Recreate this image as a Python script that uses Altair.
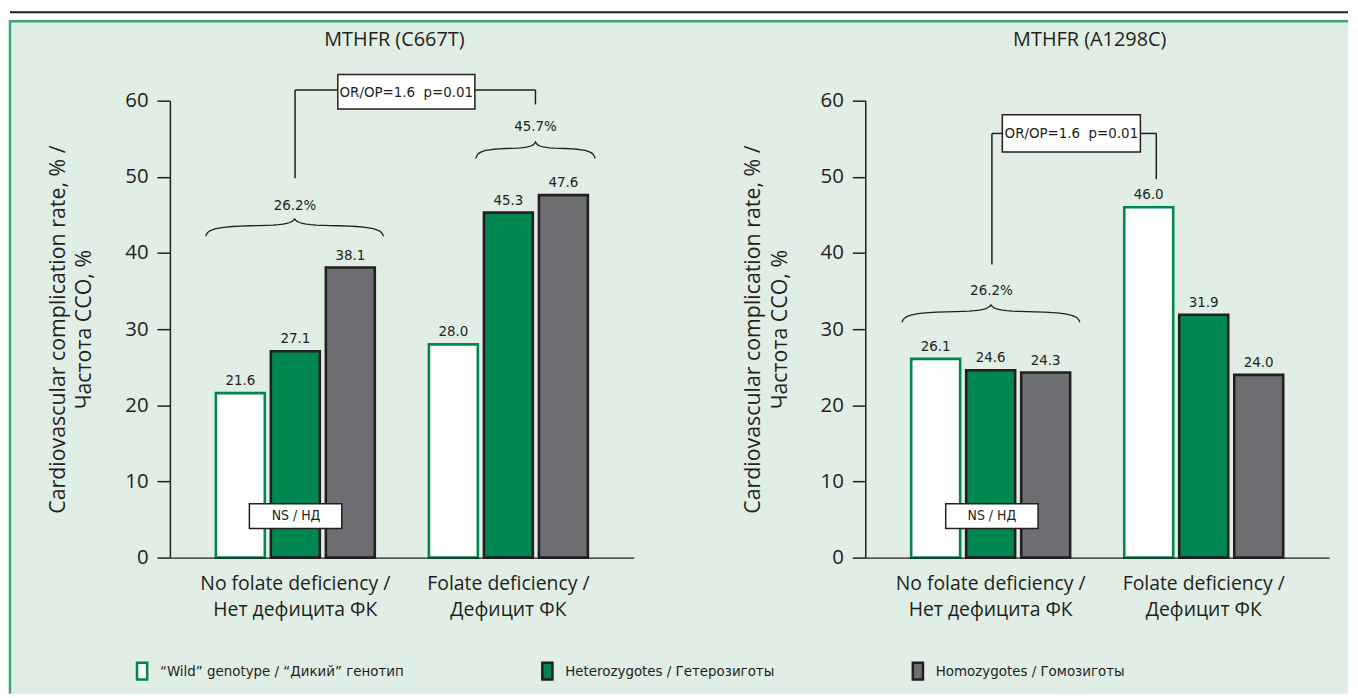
import altair as alt
import pandas as pd

# ---------------- data ----------------
conditions = ["No folate deficiency /|Нет дефицита ФК", "Folate deficiency /|Дефицит ФК"]
genotypes = ["“Wild” genotype / “Дикий” генотип", "Heterozygotes / Гетерозиготы", "Homozygotes / Гомозиготы"]
c667t_no = [21.6, 27.1, 38.1]
c667t_def = [28.0, 45.3, 47.6]
a1298c_no = [26.1, 24.6, 24.3]
a1298c_def = [46.0, 31.9, 24.0]
titles = ["MTHFR (C667T)", "MTHFR (A1298C)"]
group_pct_left = ["26.2%", "45.7%"]
group_pct_right = ["26.2%"]
or_text = "OR/OP=1.6\u00a0\u00a0p=0.01"
ns_text = "NS / НД"

# ---------------- style ----------------
BG = "#e0eee5"
FRAME = "#3fa878"
GREEN = "#00874f"
GRAY = "#6d6e72"
INK = "#231f20"
FONT = "Open Sans"
COND = "'Liberation Sans Narrow', 'DejaVu Sans Condensed', 'Roboto Condensed', sans-serif"
W, H = 467, 460
YS = alt.Scale(domain=[0, 60])


def bars_df(no_vals, def_vals):
    rows = []
    for c, vals in zip(conditions, [no_vals, def_vals]):
        for g, v in zip(genotypes, vals):
            rows.append({"cond": c, "geno": g, "val": v})
    return pd.DataFrame(rows)


def brace_pts(bid, x0, x1, yb, yt, n=10):
    w = (x1 - x0) / 2.0
    h = yt - yb
    halves = [
        [(0, 0), (0.02, 0.4), (0.12, 0.55), (0.5, 0.6)],
        [(0.5, 0.6), (0.85, 0.62), (0.97, 0.7), (1.0, 1.0)],
        [(1.0, 1.0), (1.03, 0.7), (1.15, 0.62), (1.5, 0.6)],
        [(1.5, 0.6), (1.88, 0.55), (1.98, 0.4), (2.0, 0.0)],
    ]
    pts = []
    k = 0
    for seg in halves:
        for i in range(n + 1):
            t = i / n
            bx = ((1 - t) ** 3 * seg[0][0] + 3 * (1 - t) ** 2 * t * seg[1][0]
                  + 3 * (1 - t) * t ** 2 * seg[2][0] + t ** 3 * seg[3][0])
            by = ((1 - t) ** 3 * seg[0][1] + 3 * (1 - t) ** 2 * t * seg[1][1]
                  + 3 * (1 - t) * t ** 2 * seg[2][1] + t ** 3 * seg[3][1])
            pts.append({"id": bid, "i": k, "x": x0 + bx * w, "y": yb + by * h})
            k += 1
    return pts


geno_fill = alt.Scale(domain=genotypes, range=["#ffffff", GREEN, GRAY])
geno_stroke = alt.Scale(domain=genotypes, range=[GREEN, INK, INK])
legend = alt.Legend(
    orient="none", legendX=-38, legendY=564, direction="horizontal", title=None,
    symbolType="M-0.6,-1L0.6,-1L0.6,1L-0.6,1Z", symbolSize=290, symbolStrokeWidth=2.5,
    labelFont=COND, labelFontSize=15, labelColor=INK, labelLimit=400, labelOffset=8,
    columnPadding=133, symbolOpacity=1,
)


def panel(no_vals, def_vals, title, braces, segs, boxes, texts, show_frame):
    df = bars_df(no_vals, def_vals)
    xenc = alt.X(
        "cond:N", sort=conditions, title=None,
        scale=alt.Scale(paddingInner=0.254, paddingOuter=0.2156),
        axis=alt.Axis(
            labelExpr="split(datum.label, '|')", labelAngle=0, ticks=False,
            labelFont=FONT, labelFontSize=19.5, labelColor=INK, labelPadding=17,
            labelLineHeight=26, labelLimit=400, domainColor=INK, domainWidth=1.5, zindex=1,
        ),
    )
    xoff = alt.XOffset("geno:N", sort=genotypes, scale=alt.Scale(paddingInner=0.11, paddingOuter=0))
    yenc = alt.Y(
        "val:Q", scale=YS,
        axis=alt.Axis(
            values=[0, 10, 20, 30, 40, 50, 60], grid=False, tickSize=13, tickWidth=1.5,
            tickColor=INK, domainColor=INK, domainWidth=1.5, labelFont=FONT,
            labelFontSize=20.5, labelColor=INK, labelPadding=9, zindex=1,
            title=["Cardiovascular complication rate, % /", "Частота ССО, %"],
            titleFont=FONT, titleFontSize=21.5, titleFontWeight="normal", titleColor=INK,
            titlePadding=29, titleLineHeight=27,
        ),
    )
    bars = alt.Chart(df).mark_bar(strokeWidth=2.6).encode(
        x=xenc, xOffset=xoff, y=yenc,
        fill=alt.Fill("geno:N", scale=geno_fill, sort=genotypes, legend=legend),
        stroke=alt.Stroke("geno:N", scale=geno_stroke, sort=genotypes, legend=legend),
    )
    labels = alt.Chart(df).mark_text(font=COND, fontSize=15, color=INK, dy=-13).encode(
        x=alt.X("cond:N", sort=conditions), xOffset=alt.XOffset("geno:N", sort=genotypes),
        y=alt.Y("val:Q", scale=YS),
        text=alt.Text("val:Q", format=".1f"),
    )
    bdf = pd.DataFrame([p for j, b in enumerate(braces) for p in brace_pts(j, *b)])
    brace_layer = alt.Chart(bdf).mark_line(color=INK, strokeWidth=1.3).encode(
        x=alt.X("x:Q", scale=None), y=alt.Y("y:Q", scale=YS),
        detail="id:N", order="i:Q",
    )
    sdf = pd.DataFrame(segs, columns=["x", "y", "x2", "y2"])
    seg_layer = alt.Chart(sdf).mark_rule(color=INK, strokeWidth=1.5).encode(
        x=alt.X("x:Q", scale=None), x2="x2:Q",
        y=alt.Y("y:Q", scale=YS), y2="y2:Q",
    )
    boxdf = pd.DataFrame(boxes, columns=["x", "x2", "y", "y2"])
    box_layer = alt.Chart(boxdf).mark_rect(fill="#ffffff", stroke=INK, strokeWidth=1.5).encode(
        x=alt.X("x:Q", scale=None), x2="x2:Q",
        y=alt.Y("y:Q", scale=YS), y2="y2:Q",
    )
    tdf = pd.DataFrame(texts, columns=["t", "x", "y", "size"])
    text_layer = alt.Chart(tdf).mark_text(font=COND, color=INK, baseline="middle").encode(
        x=alt.X("x:Q", scale=None), y=alt.Y("y:Q", scale=YS),
        text="t:N", size=alt.Size("size:Q", scale=None, legend=None),
    )
    one = pd.DataFrame({"k": [0]})
    title_layer = alt.Chart(pd.DataFrame({"t": [title]})).mark_text(
        font=FONT, fontSize=20, color=INK, baseline="middle"
    ).encode(x=alt.value(226), y=alt.value(-61), text="t:N")

    layers = []
    if show_frame:
        layers += [
            alt.Chart(one).mark_rect(fill=BG).encode(
                x=alt.value(-160), x2=alt.value(1186), y=alt.value(-80), y2=alt.value(597)),
            alt.Chart(one).mark_rule(color=FRAME, strokeWidth=2.5).encode(
                x=alt.value(-161), y=alt.value(-81), y2=alt.value(597)),
            alt.Chart(one).mark_rule(color=FRAME, strokeWidth=2.5).encode(
                x=alt.value(-161), x2=alt.value(1186), y=alt.value(-80)),
            alt.Chart(one).mark_rule(color=INK, strokeWidth=2).encode(
                x=alt.value(-161), x2=alt.value(1186), y=alt.value(-89)),
        ]
    layers += [bars, labels, brace_layer, seg_layer, box_layer, text_layer, title_layer]
    return alt.layer(*layers).properties(width=W, height=H)


left = panel(
    c667t_no, c667t_def, titles[0],
    braces=[(36, 215, 42.2, 44.5), (308, 428, 52.4, 54.6)],
    segs=[(126, 49.8, 126, 61.4), (126, 61.4, 169, 61.4), (307, 61.4, 368, 61.4), (368, 61.4, 368, 59.5)],
    boxes=[(169, 307, 58.9, 63.45), (80, 173, 3.82, 7.07)],
    texts=[(group_pct_left[0], 126, 46.3, 15), (group_pct_left[1], 368, 56.7, 15),
           (or_text, 238, 61.2, 15), (ns_text, 127, 5.45, 14)],
    show_frame=True,
)
right = panel(
    a1298c_no, a1298c_def, titles[1],
    braces=[(37, 216, 30.9, 33.2)],
    segs=[(127.5, 38.5, 127.5, 55.7), (127.5, 55.7, 138, 55.7), (277, 55.7, 293, 55.7), (293, 55.7, 293, 49.7)],
    boxes=[(138, 277, 53.25, 58.15), (81, 174, 3.82, 7.07)],
    texts=[(group_pct_right[0], 127, 35.1, 15), (or_text, 207.5, 55.7, 15), (ns_text, 127.5, 5.45, 14)],
    show_frame=False,
)

chart = alt.hconcat(left, right, spacing=233, bounds="flush").properties(
    padding=0, background="#ffffff"
).configure_view(stroke="transparent")

chart.save("out.html", embed_options={"renderer": "svg", "actions": False})
